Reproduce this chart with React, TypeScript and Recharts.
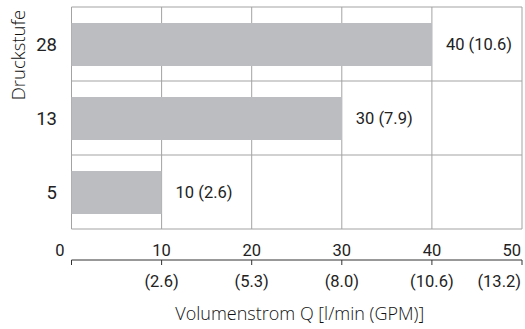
import { BarChart, Bar, XAxis, YAxis, CartesianGrid, LabelList } from 'recharts'

// pressure stages (top to bottom) and their flow rates
const stages = ['28', '13', '5']
const flowLpm = [40, 30, 10]
const flowGpm = [10.6, 7.9, 2.6]

// x axis: l/min ticks with the GPM equivalent printed underneath
const lpmTicks = [0, 10, 20, 30, 40, 50]
const gpmTickLabels = ['', '(2.6)', '(5.3)', '(8.0)', '(10.6)', '(13.2)']

const data = stages.map((stage, i) => ({
  stage,
  lpm: flowLpm[i],
  label: `${flowLpm[i]} (${flowGpm[i].toFixed(1)})`,
}))

const NUM_FONT = "Roboto, 'Liberation Sans', sans-serif"
const TEXT_FONT = "'Open Sans', 'Noto Sans', sans-serif"
const INK = '#222'
const GRID = '#a3a3a3'
const AXIS = '#333'

const edgeAnchor = (index: number) => {
  if (index === 0) return { dx: -7, anchor: 'end' }
  if (index === lpmTicks.length - 1) return { dx: -1, anchor: 'end' }
  return { dx: 0, anchor: 'middle' }
}

// one tick draws the l/min number, the small tick mark under it and the GPM value
const FlowTick = (props: any) => {
  const { x, y, payload, index } = props
  const { dx, anchor } = edgeAnchor(index)
  const gpm = gpmTickLabels[index] ?? ''
  return (
    <g>
      <text x={x + dx} y={y + 27} textAnchor={anchor} fontFamily={NUM_FONT} fontSize={16.5} fill={INK}>
        {payload.value}
      </text>
      <line x1={x} x2={x} y1={y + 31} y2={y + 36} stroke={AXIS} />
      {gpm && (
        <text x={x + dx} y={y + 58} textAnchor={anchor} fontFamily={NUM_FONT} fontSize={16.5} fill={INK}>
          {gpm}
        </text>
      )}
    </g>
  )
}

const StageLabel = (props: any) => {
  const vb = props.viewBox || {}
  const cx = vb.x + 25
  const cy = vb.y + 48
  return (
    <text
      x={cx}
      y={cy}
      transform={`rotate(-90, ${cx}, ${cy})`}
      textAnchor="middle"
      fontFamily={TEXT_FONT}
      fontWeight={300}
      fontSize={18.5}
      fill="#111"
    >
      Druckstufe
    </text>
  )
}

const FlowTitle = (props: any) => {
  const vb = props.viewBox || {}
  return (
    <text
      x={vb.x + vb.width / 2 + 3}
      y={vb.y + 60}
      textAnchor="middle"
      fontFamily={TEXT_FONT}
      fontWeight={300}
      fontSize={18}
      fill="#111"
    >
      Volumenstrom Q [l/min (GPM)]
    </text>
  )
}

// horizontal lines sit on the band edges, not on the band centres
const bandEdges = ({ offset }: any) =>
  Array.from({ length: stages.length + 1 }, (_, i) => offset.top + (i * offset.height) / stages.length)

export default function App() {
  return (
    <div style={{ position: 'absolute', left: 0, top: 0 }}>
      <BarChart
        width={525}
        height={329}
        data={data}
        layout="vertical"
        margin={{ top: 7, right: 3, bottom: 0, left: 0 }}
      >
        <XAxis
          type="number"
          dataKey="lpm"
          domain={[0, 50]}
          ticks={lpmTicks}
          interval={0}
          height={31}
          axisLine={false}
          tickLine={false}
          tickSize={0}
          tickMargin={0}
          tick={<FlowTick />}
        />
        <XAxis
          xAxisId="line"
          type="number"
          domain={[0, 50]}
          height={69}
          axisLine={{ stroke: AXIS }}
          tickLine={false}
          tick={false}
          label={<FlowTitle />}
        />
        <YAxis
          type="category"
          dataKey="stage"
          width={71.5}
          axisLine={false}
          tickLine={false}
          tickSize={0}
          tickMargin={14.5}
          tick={{ fontFamily: NUM_FONT, fontSize: 18.5, fill: INK }}
          label={<StageLabel />}
        />
        <Bar dataKey="lpm" fill="#bcbdc0" barSize={43} isAnimationActive={false}>
          <LabelList
            dataKey="label"
            position="right"
            offset={14}
            style={{ fontFamily: NUM_FONT, fontSize: 16.5, fill: INK }}
          />
        </Bar>
        <CartesianGrid stroke={GRID} horizontalCoordinatesGenerator={bandEdges} />
      </BarChart>
    </div>
  )
}
